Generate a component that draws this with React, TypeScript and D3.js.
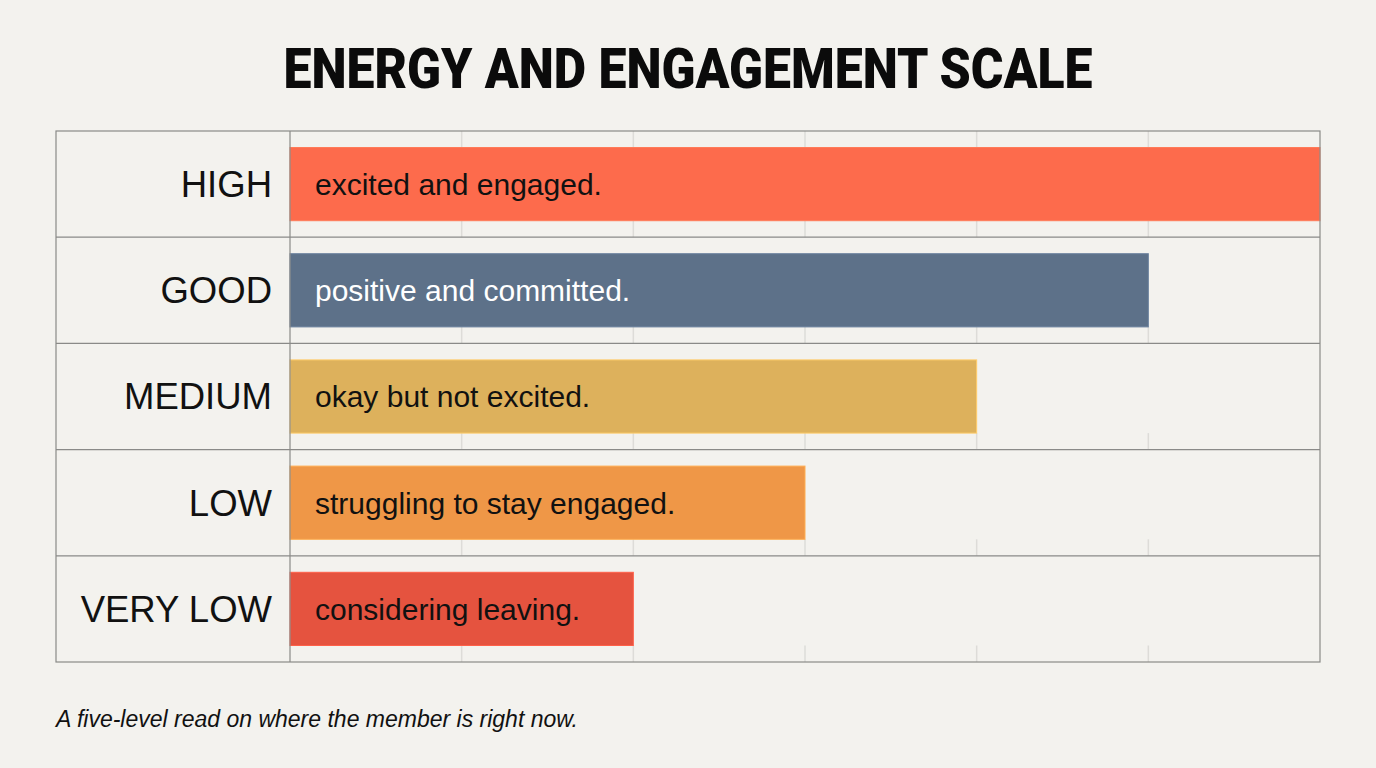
import React, { useEffect, useRef } from 'react';
import * as d3 from 'd3';

// energy levels, top to bottom
const levels = ['HIGH', 'GOOD', 'MEDIUM', 'LOW', 'VERY LOW'];
const scores = [6, 5, 4, 3, 2];
const notes = [
  'excited and engaged.',
  'positive and committed.',
  'okay but not excited.',
  'struggling to stay engaged.',
  'considering leaving.',
];
const barColors = ['#fd6b4c', '#5d7189', '#ddb15c', '#ef9747', '#e5533f'];
const noteColors = ['#111', '#fff', '#111', '#111', '#111'];
const gridTicks = [1, 2, 3, 4, 5];

const W = 1376;
const H = 768;

export default function App() {
  const ref = useRef<SVGSVGElement>(null);

  useEffect(() => {
    const svg = d3.select(ref.current);
    svg.selectAll('*').remove();

    const left = 56, labelW = 290, right = 1320, top = 131, bottom = 662;

    svg.append('rect').attr('width', W).attr('height', H).attr('fill', '#f3f2ee');

    svg.append('text')
      .attr('x', 688).attr('y', 88)
      .attr('text-anchor', 'middle')
      .attr('font-family', 'Roboto, "Liberation Sans", sans-serif')
      .attr('font-weight', 900)
      .attr('font-size', 56)
      .attr('textLength', 809)
      .attr('lengthAdjust', 'spacingAndGlyphs')
      .attr('fill', '#0b0b0b')
      .text('ENERGY AND ENGAGEMENT SCALE');

    const y = d3.scaleBand<string>().domain(levels).range([top, bottom]);
    const x = d3.scaleLinear().domain([0, 6]).range([labelW, right]);
    const pad = 16.5;
    const barH = y.bandwidth() - pad * 2;

    // faint vertical guides, only in the gaps under each bar (and above the first)
    const grid = svg.append('g').attr('stroke', '#dddcd8').attr('stroke-width', 1.5);
    levels.forEach((lv, i) => {
      const y0 = y(lv)!;
      gridTicks.forEach(t => {
        grid.append('line')
          .attr('x1', x(t)).attr('x2', x(t))
          .attr('y1', y0 + pad + barH).attr('y2', y0 + y.bandwidth());
        if (i === 0) {
          grid.append('line')
            .attr('x1', x(t)).attr('x2', x(t))
            .attr('y1', y0).attr('y2', y0 + pad);
        }
      });
    });

    const rows = svg.append('g')
      .selectAll('g')
      .data(levels)
      .join('g')
      .attr('transform', d => `translate(0,${y(d)})`);

    rows.append('rect')
      .attr('x', x(0))
      .attr('y', pad)
      .attr('width', (_, i) => x(scores[i]) - x(0))
      .attr('height', barH)
      .attr('fill', (_, i) => barColors[i])
      .attr('stroke', (_, i) => d3.color(barColors[i])!.brighter(0.4).formatHex())
      .attr('stroke-width', 1);

    rows.append('text')
      .attr('x', 272)
      .attr('y', y.bandwidth() / 2 + 13)
      .attr('text-anchor', 'end')
      .attr('font-family', '"Liberation Sans", Arial, sans-serif')
      .attr('font-size', 36.5)
      .attr('fill', '#111')
      .text(d => d);

    rows.append('text')
      .attr('x', 315)
      .attr('y', y.bandwidth() / 2 + 11)
      .attr('font-family', '"Liberation Sans", Arial, sans-serif')
      .attr('font-size', 30)
      .attr('fill', (_, i) => noteColors[i])
      .text((_, i) => notes[i]);

    // table frame
    const frame = svg.append('g').attr('stroke', '#8a8a88').attr('stroke-width', 1.2).attr('fill', 'none');
    frame.append('rect').attr('x', left).attr('y', top).attr('width', right - left).attr('height', bottom - top);
    frame.append('line').attr('x1', labelW).attr('x2', labelW).attr('y1', top).attr('y2', bottom);
    levels.slice(1).forEach(lv => {
      frame.append('line').attr('x1', left).attr('x2', right).attr('y1', y(lv)!).attr('y2', y(lv)!);
    });

    svg.append('text')
      .attr('x', 56).attr('y', 727)
      .attr('font-family', '"Liberation Sans", Arial, sans-serif')
      .attr('font-style', 'italic')
      .attr('font-size', 23)
      .attr('fill', '#111')
      .text('A five-level read on where the member is right now.');
  }, []);

  return (
    <svg
      ref={ref}
      width={W}
      height={H}
      style={{ position: 'absolute', left: 0, top: 0, display: 'block' }}
    />
  );
}
